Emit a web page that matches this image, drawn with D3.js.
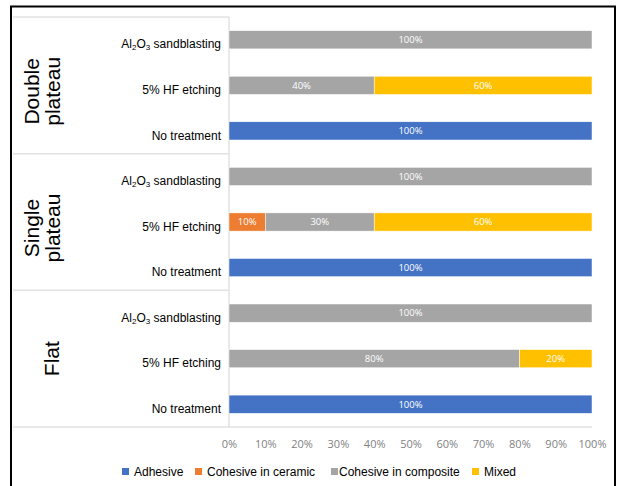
<!DOCTYPE html>
<html lang="en">
  <head>
    <meta charset="UTF-8" />
    <title>Failure modes by surface treatment</title>
    <script src="https://d3js.org/d3.v7.min.js"></script>
    <style>
      body { margin: 0; background: #fff; }
      svg { display: block; }
      .cat { font-family: "Liberation Sans", Arial, sans-serif; font-size: 12px; fill: #000; }
      .grp { font-family: "Liberation Sans", Arial, sans-serif; font-size: 21px; fill: #000; }
      .tick text { font-family: "Open Sans", sans-serif; font-size: 11px; fill: #7f7f7f; }
      .lbl { font-family: "Open Sans", sans-serif; font-size: 9.5px; fill: #fff; }
      .leg { font-family: "Liberation Sans", Arial, sans-serif; font-size: 12px; fill: #000; }
    </style>
  </head>
  <body>
    <svg width="620" height="486"></svg>
    <script>
      // groups top to bottom, each with three treatments
      const groups = [["Double", "plateau"], ["Single", "plateau"], ["Flat"]];
      const treatments = ["Al2O3 sandblasting", "5% HF etching", "No treatment"];
      const series = ["Adhesive", "Cohesive in ceramic", "Cohesive in composite", "Mixed"];
      const colors = ["#4472c4", "#ed7d31", "#a5a5a5", "#ffc000"];

      // values per row (percent), rows in display order
      const adhesive = [0, 0, 100, 0, 0, 100, 0, 0, 100];
      const ceramic = [0, 0, 0, 0, 10, 0, 0, 0, 0];
      const composite = [100, 40, 0, 100, 30, 0, 100, 80, 0];
      const mixed = [0, 60, 0, 0, 60, 0, 0, 20, 0];
      const ticks = [0, 10, 20, 30, 40, 50, 60, 70, 80, 90, 100];

      const rows = [];
      groups.forEach((g, gi) =>
        treatments.forEach((t, ti) => {
          const i = gi * 3 + ti;
          rows.push({
            id: gi + "-" + ti,
            treatment: t,
            Adhesive: adhesive[i],
            "Cohesive in ceramic": ceramic[i],
            "Cohesive in composite": composite[i],
            Mixed: mixed[i],
          });
        })
      );

      const svg = d3.select("svg");

      // outer frame
      svg.append("path")
        .attr("d", "M11,486 V6.5 H615 V486")
        .attr("fill", "none")
        .attr("stroke", "#000")
        .attr("stroke-width", 2);

      const plotTop = 17, plotBottom = 427, plotLeft = 229, plotRight = 592;

      const x = d3.scaleLinear().domain([0, 100]).range([plotLeft, plotRight]);
      const y = d3.scaleBand().domain(rows.map((d) => d.id)).range([plotTop, plotBottom]).paddingInner(0.6).paddingOuter(0.3);
      const rowH = (plotBottom - plotTop) / rows.length;

      // grid lines
      const grid = svg.append("g").attr("stroke", "#e2e2e2").attr("stroke-width", 1.5);
      grid.append("line").attr("x1", 13).attr("x2", plotLeft).attr("y1", plotTop).attr("y2", plotTop);
      [1, 2].forEach((k) => {
        const yy = plotTop + rowH * 3 * k;
        grid.append("line").attr("x1", 13).attr("x2", plotLeft).attr("y1", yy).attr("y2", yy);
      });
      grid.append("line").attr("x1", 13).attr("x2", plotRight).attr("y1", plotBottom).attr("y2", plotBottom);
      grid.append("line").attr("x1", plotLeft).attr("x2", plotLeft).attr("y1", plotTop).attr("y2", plotBottom);

      // stacked bars
      const stack = d3.stack().keys(series)(rows);
      const color = d3.scaleOrdinal().domain(series).range(colors);

      const layers = svg.append("g").selectAll("g").data(stack).join("g").attr("fill", (d) => color(d.key));
      layers.selectAll("rect")
        .data((d) => d.filter((s) => s[1] > s[0]))
        .join("rect")
        .attr("x", (d) => x(d[0]))
        .attr("width", (d) => x(d[1]) - x(d[0]))
        .attr("y", (d) => y(d.data.id))
        .attr("height", y.bandwidth())
        .attr("stroke", "#fff")
        .attr("stroke-width", 0.5);

      layers.selectAll("text")
        .data((d) => d.filter((s) => s[1] > s[0]))
        .join("text")
        .attr("class", "lbl")
        .attr("x", (d) => (x(d[0]) + x(d[1])) / 2)
        .attr("y", (d) => y(d.data.id) + y.bandwidth() / 2)
        .attr("dy", "0.35em")
        .attr("text-anchor", "middle")
        .text((d) => d[1] - d[0] + "%");

      // category labels
      const cat = svg.append("g").selectAll("text").data(rows).join("text")
        .attr("class", "cat")
        .attr("x", 221)
        .attr("y", (d) => y(d.id) + y.bandwidth() / 2 + 4.5)
        .attr("dy", "0.35em")
        .attr("text-anchor", "end");
      cat.each(function (d) {
        const t = d3.select(this);
        if (d.treatment.startsWith("Al2O3")) {
          t.append("tspan").text("Al");
          t.append("tspan").attr("font-size", "8px").attr("dy", "2").text("2");
          t.append("tspan").attr("dy", "-2").text("O");
          t.append("tspan").attr("font-size", "8px").attr("dy", "2").text("3");
          t.append("tspan").attr("dy", "-2").text(" sandblasting");
        } else {
          t.text(d.treatment);
        }
      });

      // group labels (rotated)
      groups.forEach((g, gi) => {
        const multi = g.length > 1;
        const cy = plotTop + rowH * 3 * gi + rowH * 1.5 + (multi ? 6 : 0);
        const t = svg.append("text")
          .attr("class", "grp")
          .attr("transform", `translate(${multi ? 49 : 52},${cy}) rotate(-90)`)
          .attr("text-anchor", "middle");
        g.forEach((line, li) => {
          t.append("tspan")
            .attr("x", 0)
            .attr("y", (li - (g.length - 1) / 2) * 21 + (multi ? 0 : 7))
            .text(line);
        });
      });

      // x axis
      svg.append("g")
        .attr("transform", `translate(0,${plotBottom})`)
        .call(d3.axisBottom(x).tickValues(ticks).tickFormat((d) => d + "%").tickSize(0).tickPadding(13))
        .call((g) => g.select(".domain").remove());

      // legend
      const legX = [122, 195, 331, 472];
      const leg = svg.append("g").selectAll("g").data(series).join("g")
        .attr("transform", (d, i) => `translate(${legX[i]},468)`);
      leg.append("rect").attr("width", 7).attr("height", 7).attr("fill", (d) => color(d));
      leg.append("text").attr("class", "leg").attr("x", (d, i) => (i === 2 ? 8 : 12)).attr("y", 7.5).text((d) => d);
    </script>
  </body>
</html>
